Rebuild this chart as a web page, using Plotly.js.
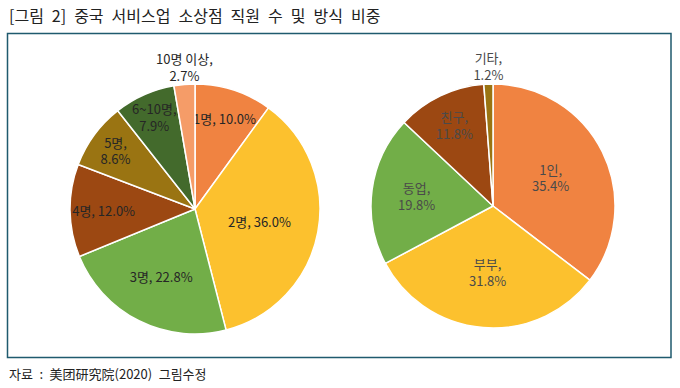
<!DOCTYPE html>
<html>
<head>
<meta charset="utf-8">
<script src="https://cdn.plot.ly/plotly-3.0.1.min.js"></script>
<style>
html,body{margin:0;padding:0;background:#fff;}
#chart{width:680px;height:388px;}
</style>
</head>
<body>
<div id="chart"></div>
<script>
// Left pie: number of employees
const staffLabels = ['1명', '2명', '3명', '4명', '5명', '6~10명', '10명 이상'];
const staffValues = [10.0, 36.0, 22.8, 12.0, 8.6, 7.9, 2.7];
const staffTwoLine = [false, false, false, false, true, true, true];
const staffOutside = [false, false, false, false, false, false, true];

// Right pie: operating mode
const modeLabels = ['1인', '부부', '동업', '친구', '기타'];
const modeValues = [35.4, 31.8, 19.8, 11.8, 1.2];
const modeTwoLine = [true, true, true, true, true];
const modeOutside = [false, false, false, false, true];

// Wide (en) spaces mimic the spacing of the original typeface
const titleText = '[그림\u20022]\u2002중국\u2002서비스업\u2002소상점\u2002직원\u2002수\u2002및\u2002방식\u2002비중';
const sourceText = '자료\u2002:\u2002美团研究院(2020)\u2002그림수정';

const staffColors = ['#F08341', '#FCC12E', '#72AE48', '#9C4812', '#9A7412', '#436A2C', '#F59C68'];
const modeColors = ['#F08341', '#FCC12E', '#72AE48', '#9C4812', '#9A7412'];

const FONT = '"Noto Sans CJK KR", "Noto Sans", sans-serif';

function tmpl(twoLine) {
  return twoLine.map(t => t ? '%{label},<br>%{value:.1f}%' : '%{label}, %{value:.1f}%');
}
function pos(outside) {
  return outside.map(o => o ? 'outside' : 'inside');
}

const W = 680, H = 388;
function dom(cx, cy, r) {
  return {
    x: [(cx - r) / W, (cx + r) / W],
    y: [(H - cy - r) / H, (H - cy + r) / H]
  };
}

const traces = [
  {
    type: 'pie',
    labels: staffLabels,
    values: staffValues,
    sort: false,
    direction: 'clockwise',
    rotation: 0,
    marker: { colors: staffColors, line: { color: '#ffffff', width: 1.5 } },
    texttemplate: tmpl(staffTwoLine),
    textposition: pos(staffOutside),
    insidetextorientation: 'horizontal',
    textfont: { family: FONT, size: 13, color: '#262626' },
    outsidetextfont: { family: FONT, size: 13, color: '#262626' },
    domain: dom(195, 209, 125),
    showlegend: false,
    hoverinfo: 'none'
  },
  {
    type: 'pie',
    labels: modeLabels,
    values: modeValues,
    sort: false,
    direction: 'clockwise',
    rotation: 0,
    marker: { colors: modeColors, line: { color: '#ffffff', width: 1.5 } },
    texttemplate: tmpl(modeTwoLine),
    textposition: pos(modeOutside),
    insidetextorientation: 'horizontal',
    textfont: { family: FONT, size: 13, color: '#4a4a4a' },
    outsidetextfont: { family: FONT, size: 13, color: '#4a4a4a' },
    domain: dom(493, 206, 122),
    showlegend: false,
    hoverinfo: 'none'
  }
];

const layout = {
  width: W,
  height: H,
  margin: { l: 0, r: 0, t: 0, b: 0 },
  paper_bgcolor: '#ffffff',
  plot_bgcolor: '#ffffff',
  showlegend: false,
  uniformtext: { mode: 'show', minsize: 13 },
  font: { family: FONT, color: '#222' },
  shapes: [
    {
      type: 'rect', xref: 'paper', yref: 'paper',
      x0: 7.5 / W, x1: 671 / W, y0: 1 - 357.5 / H, y1: 1 - 33.5 / H,
      line: { color: '#1F5A6E', width: 1.5 }, fillcolor: 'rgba(0,0,0,0)'
    }
  ],
  annotations: [
    {
      text: titleText, xref: 'paper', yref: 'paper',
      x: 7 / W, y: 1 - 15 / H, xanchor: 'left', yanchor: 'middle',
      showarrow: false, font: { family: FONT, size: 16, color: '#222222' }
    },
    {
      text: sourceText, xref: 'paper', yref: 'paper',
      x: 7 / W, y: 1 - 373 / H, xanchor: 'left', yanchor: 'middle',
      showarrow: false, font: { family: FONT, size: 13, color: '#222222' }
    }
  ]
};

const outsideFlags = [staffOutside, modeOutside];

Plotly.newPlot('chart', traces, layout, { displayModeBar: false, staticPlot: true }).then(gd => {
  // Centre the small outside labels above their slices (as in the reference)
  const traceGroups = gd.querySelectorAll('g.trace');
  traceGroups.forEach((tg, ti) => {
    const slices = tg.querySelectorAll('g.slice');
    slices.forEach((sl, si) => {
      if (!outsideFlags[ti] || !outsideFlags[ti][si]) return;
      const txt = sl.querySelector('text.slicetext');
      if (!txt) return;
      const bb = txt.getBBox();
      const shift = bb.width / 2 + bb.height / 4;
      const tr = txt.getAttribute('transform') || '';
      txt.setAttribute('transform', 'translate(' + shift + ',0) ' + tr);
    });
  });
});
</script>
</body>
</html>
